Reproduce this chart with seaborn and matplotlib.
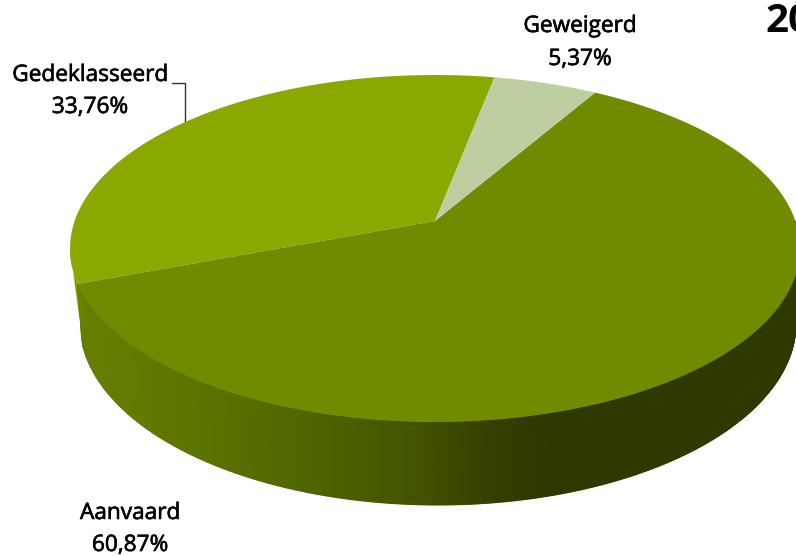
import numpy as np
import matplotlib
matplotlib.use("Agg")
import matplotlib.pyplot as plt
import matplotlib.patheffects as pe
from matplotlib.colors import LinearSegmentedColormap
from matplotlib.path import Path
from matplotlib.transforms import Transform
import seaborn as sns

categories = ["Gedeklasseerd", "Aanvaard", "Geweigerd"]
values = [33.76, 60.87, 5.37]
value_labels = ["33,76%", "60,87%", "5,37%"]
title_text = "20"

top_colors = ["#8aa900", "#708b00", "#bdcea0"]
sliver_color = "#7f9c00"
wall_stops = [(0.0, "#678000"), (0.16, "#5c7400"), (0.32, "#506500"),
              (0.47, "#435400"), (0.57, "#344000"), (0.66, "#2e3800"), (1.0, "#2e3800")]

W, H = 796, 556
TOP = dict(cx=435.0, cy=248.5, a=365.0, b=173.5)
BOTTOM = dict(cx=438.0, cy=323.0, a=358.0, b=182.0)
APEX_SHIFT = (221.0 - TOP["cy"]) / TOP["b"]
START_ANGLE = -79.0


def disc_to_ellipse(u, v, e):
    p = APEX_SHIFT
    d = 1 + p * v
    return (e["cx"] + e["a"] * u * np.sqrt(1 - p * p) / d,
            e["cy"] + e["b"] * (v + p) / d)


class Perspective(Transform):
    input_dims = output_dims = 2
    is_affine = False
    has_inverse = False

    def __init__(self, ell):
        super().__init__()
        self.ell = ell

    def transform_non_affine(self, xy):
        xy = np.asarray(xy, float)
        return np.column_stack(disc_to_ellipse(xy[:, 0], xy[:, 1], self.ell))

    def transform_path_non_affine(self, path):
        pts = []
        for curve, code in path.iter_bezier():
            if code == Path.MOVETO:
                continue
            pts.append(curve(np.linspace(0, 1, 24)))
        pts = np.vstack(pts)
        return Path(self.transform_non_affine(pts), closed=False)


sns.set_theme(style="white")
plt.rcParams["font.family"] = ["Open Sans", "DejaVu Sans"]

fig = plt.figure(figsize=(W / 100, H / 100), dpi=100, facecolor="white")
ax = fig.add_axes([0, 0, 1, 1])

wedges, _ = ax.pie(values, colors=sns.color_palette(top_colors), startangle=START_ANGLE,
                   counterclock=False, radius=1, wedgeprops=dict(linewidth=0, zorder=3))
proj = Perspective(TOP)
for w in wedges:
    w.set_transform(proj + ax.transData)

ax.set_aspect("auto")
ax.set_xlim(0, W)
ax.set_ylim(H, 0)
ax.axis("off")

# side wall, following the slices' angles
bound = (START_ANGLE - 360 * values[0] / sum(values)) % 360
th = np.radians(np.linspace(bound, 0, 500))
top_x, top_y = disc_to_ellipse(np.cos(th), np.sin(th), TOP)
phi = np.arctan2((top_y - TOP["cy"]) / TOP["b"], (top_x - TOP["cx"]) / TOP["a"])
phi_b = phi + np.radians(5.0) * (phi / phi[0]) ** 6
bot_x = BOTTOM["cx"] + BOTTOM["a"] * np.cos(phi_b)
bot_y = BOTTOM["cy"] + BOTTOM["b"] * np.sin(phi_b)
X = np.vstack([top_x, bot_x])
Y = np.vstack([top_y, bot_y])
cmap = LinearSegmentedColormap.from_list("wall", wall_stops)
ax.pcolormesh(X, Y, X / 796.0, cmap=cmap, vmin=80 / 796, vmax=1.0,
              shading="gouraud", zorder=1.5, rasterized=True)

# sliver of the Gedeklasseerd wall on the far left
phi_t = np.linspace(phi[0], np.pi, 30)
phi_l = np.linspace(phi_b[0], np.pi, 30)
sx = np.concatenate([TOP["cx"] + TOP["a"] * np.cos(phi_t),
                     (BOTTOM["cx"] + BOTTOM["a"] * np.cos(phi_l))[::-1]])
sy = np.concatenate([TOP["cy"] + TOP["b"] * np.sin(phi_t),
                     (BOTTOM["cy"] + BOTTOM["b"] * np.sin(phi_l))[::-1]])
ax.fill(sx, sy, color=sliver_color, lw=0, zorder=1)

# leader line
ax.plot([172, 185, 185], [83, 83, 123], color="#333333", lw=1.0, zorder=2,
        solid_joinstyle="miter")

fs = 16.3
bolder = [pe.withStroke(linewidth=0.45, foreground="black")]
label_pos = [(90, 75, 107), (130, 513, 545), (580, 26, 59)]
for name, val, (x, y1, y2) in zip(categories, value_labels, label_pos):
    ax.text(x, y1, name, ha="center", va="center", fontsize=fs, color="black", path_effects=bolder)
    ax.text(x, y2, val, ha="center", va="center", fontsize=fs, color="black", path_effects=bolder)
ax.text(765, 22, title_text, ha="left", va="center", fontsize=29, fontweight="bold", color="black")

fig.savefig("out.png", dpi=100)
